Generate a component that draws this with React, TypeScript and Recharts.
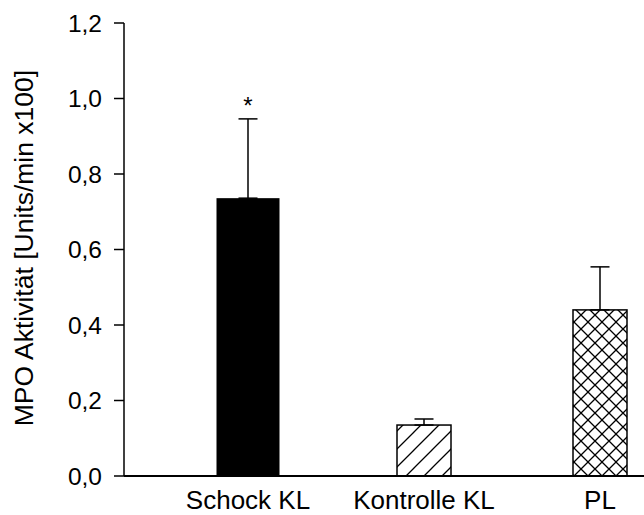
import React from 'react';
import { BarChart, Bar, XAxis, YAxis, ErrorBar, ReferenceDot, Label } from 'recharts';

const categories = ['Schock KL', 'Kontrolle KL', 'PL'];
const means = [0.736, 0.135, 0.44];
const errors = [0.21, 0.016, 0.114];
const significance = ['*', '', ''];
const yTicks = [0, 0.2, 0.4, 0.6, 0.8, 1.0, 1.2];
const yLabel = 'MPO Aktivität [Units/min x100]';

const data = categories.map((name, i) => ({
  name,
  value: means[i],
  err: [0, errors[i]],
}));

const FONT = '"Liberation Sans", Arial, sans-serif';

const BarShape = (props: any) => {
  const { x, y, width, height, payload } = props;
  const idx = categories.indexOf(payload.name);
  const cx = x + width / 2;
  if (idx === 0) {
    const w = 63;
    return <rect x={cx - w / 2} y={y} width={w} height={height} fill="#000" />;
  }
  const w = 54;
  const pid = idx === 1 ? 'diagHatch' : 'crossHatch';
  return (
    <g>
      <defs>
        {idx === 1 ? (
          <pattern id={pid} patternUnits="userSpaceOnUse" width={18} height={18}>
            <path d="M0,18 L18,0 M-4.5,4.5 L4.5,-4.5 M13.5,22.5 L22.5,13.5" stroke="#000" strokeWidth={1.3} />
          </pattern>
        ) : (
          <pattern id={pid} patternUnits="userSpaceOnUse" width={14} height={14}>
            <path d="M0,0 L14,14 M14,0 L0,14" stroke="#000" strokeWidth={1.3} />
          </pattern>
        )}
      </defs>
      <rect x={cx - w / 2} y={y} width={w} height={height} fill="#fff" />
      <rect x={cx - w / 2} y={y} width={w} height={height} fill={`url(#${pid})`} stroke="#000" strokeWidth={1.5} />
    </g>
  );
};

const XTick = (props: any) => {
  const { x, payload } = props;
  return (
    <text x={x} y={509} textAnchor="middle" fontFamily={FONT} fontSize={26} fill="#000">
      {payload.value}
    </text>
  );
};

const YLabelContent = () => {
  const cx = 33;
  const cy = 248;
  return (
    <text
      x={cx}
      y={cy}
      transform={`rotate(-90, ${cx}, ${cy})`}
      textAnchor="middle"
      fontFamily={FONT}
      fontSize={26.5}
      fill="#000"
    >
      {yLabel}
    </text>
  );
};

export default function App() {
  return (
    <div style={{ position: 'absolute', left: 0, top: 0, width: 644, height: 515, overflow: 'hidden', background: '#fff' }}>
      <BarChart width={688} height={515} data={data} margin={{ top: 23, right: 0, bottom: 0, left: 0 }}>
        <XAxis
          dataKey="name"
          height={39}
          padding={{ left: 36, right: 0 }}
          tickLine={false}
          tickSize={0}
          tickMargin={0}
          axisLine={{ stroke: '#000', strokeWidth: 2 }}
          tick={<XTick />}
          interval={0}
        />
        <YAxis
          width={124}
          domain={[0, 1.2]}
          ticks={yTicks}
          type="number"
          tickSize={10}
          tickMargin={12}
          axisLine={{ stroke: '#000', strokeWidth: 1.5 }}
          tickLine={{ stroke: '#000', strokeWidth: 1.5 }}
          tick={{ fill: '#000', fontSize: 24.5, fontFamily: FONT }}
          tickFormatter={(v: number) => v.toFixed(1).replace('.', ',')}
          interval={0}
        >
          <Label content={<YLabelContent />} />
        </YAxis>
        <Bar dataKey="value" barSize={54} shape={<BarShape />} isAnimationActive={false}>
          <ErrorBar dataKey="err" width={9.5} strokeWidth={1.5} stroke="#000" direction="y" isAnimationActive={false} />
        </Bar>
        <ReferenceDot
          x={categories[0]}
          y={means[0] + errors[0]}
          r={0}
          ifOverflow="visible"
          shape={(p: any) => (
            <text x={p.cx} y={p.cy - 5} textAnchor="middle" fontFamily={FONT} fontSize={24} fill="#000">
              {significance[0]}
            </text>
          )}
        />
      </BarChart>
    </div>
  );
}
